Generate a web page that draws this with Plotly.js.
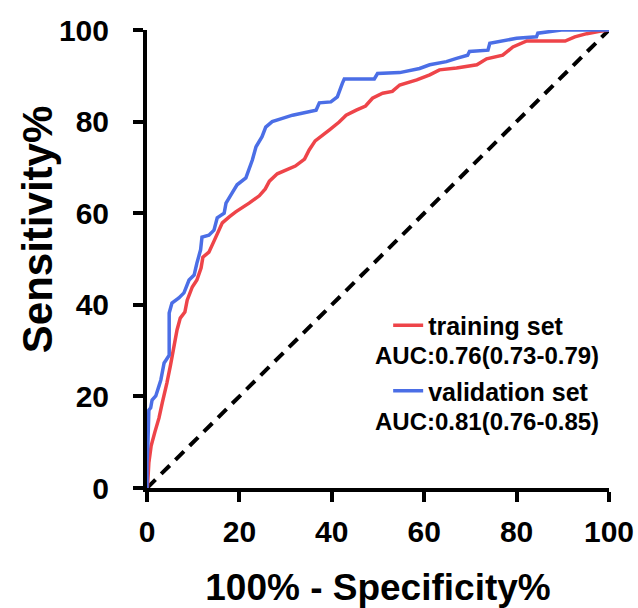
<!DOCTYPE html>
<html>
<head>
<meta charset="utf-8">
<script src="https://cdn.plot.ly/plotly-3.0.1.min.js"></script>
<style>html,body{margin:0;padding:0;background:#fff;}#chart{width:638px;height:608px;}</style>
</head>
<body>
<div id="chart"></div>
<script>
// 100% - Specificity% (x) and Sensitivity% (y)
const trainX = [0,0.1,0.4,0.9,1.7,2.6,3.3,3.7,4.3,5.1,5.9,6.5,7.2,8.2,8.7,9.8,10.8,11.7,12.1,13.4,14.5,15.6,16.3,17.8,19.2,22.1,24.3,25.6,26.5,28.2,30.2,32.1,34.1,35.1,36.4,37.7,39.5,41.6,43.1,45.3,47.3,48.8,51.0,53.1,54.7,58.4,61.2,63.3,67.0,71.4,73.5,77.0,79.2,82.2,90.5,92.6,95.2,98.0,100];
const trainY = [0,0.2,5.5,9.2,12.2,15.3,18.6,20.1,22.9,26.9,31.7,34.5,37.1,38.4,41.0,43.9,45.4,48.0,50.4,51.5,53.9,56.3,57.9,59.2,60.3,62.2,63.8,65.3,67.0,68.6,69.4,70.3,71.8,73.8,75.8,76.9,78.2,79.9,81.4,82.5,83.4,85.1,86.2,86.6,88.0,89.1,90.2,91.3,91.7,92.4,93.7,94.5,96.3,97.6,97.6,98.5,99.2,99.7,100];
const validX = [0,0,0.2,0.4,0.8,1.1,1.9,2.2,2.6,3.0,3.3,3.7,4.1,4.8,4.8,5.4,6.9,8.0,9.1,10.2,10.8,11.6,11.9,13.4,14.5,15.2,16.7,17.1,18.4,19.5,21.4,22.1,22.8,23.6,24.9,25.7,27.1,29.3,31.5,36.6,37.3,39.8,41.2,42.3,42.7,49.2,49.9,54.7,59.0,61.2,64.8,67.0,69.4,69.8,73.8,74.2,77.4,80.0,84.3,84.6,89.7,99.6,100];
const validY = [0,5.5,9.8,17.0,17.5,19.2,20.1,21.4,22.3,23.6,25.1,27.3,27.9,29.0,38.2,40.4,41.5,42.6,45.4,46.5,49.1,52.0,54.8,55.2,56.3,59.0,60.0,62.2,64.4,66.2,67.7,69.4,71.6,74.5,76.7,78.8,80.0,80.7,81.4,82.5,84.1,84.3,85.4,88.4,89.3,89.3,90.5,90.7,91.6,92.4,93.1,93.8,94.5,95.3,95.6,97.1,97.8,98.2,98.5,99.3,100,100,100];
const refX = [0,100];
const refY = [0,100];
const seriesNames = ["training set","validation set"];
const aucLabels = ["AUC:0.76(0.73-0.79)","AUC:0.81(0.76-0.85)"];
const tickVals = [0,20,40,60,80,100];
const xTitle = "100% - Specificity%";
const yTitle = "Sensitivity%";

const FONT = "Arial, 'Liberation Sans', Helvetica, sans-serif";
const bold = (size) => ({family: FONT, size: size, color: '#000', weight: 'bold'});

const traces = [
  {x: refX, y: refY, mode: 'lines', showlegend: false, hoverinfo: 'skip',
   line: {color: '#000', width: 4, dash: '12px,8px'}},
  {x: trainX, y: trainY, mode: 'lines', name: seriesNames[0], legendgroup: 'a',
   line: {color: '#EE4449', width: 3.5}},
  {x: validX, y: validY, mode: 'lines', name: seriesNames[1], legendgroup: 'b',
   line: {color: '#4B6EE6', width: 3.5}}
];

const axisCommon = {
  range: [0, 100], tickvals: tickVals, ticktext: tickVals.map(String),
  showgrid: false, zeroline: false, showline: true, linecolor: '#000', linewidth: 4,
  ticks: 'outside', ticklen: 10, tickwidth: 4, tickcolor: '#000',
  tickfont: bold(30), fixedrange: true
};

const layout = {
  width: 638, height: 608,
  margin: {l: 147, r: 29, t: 30, b: 120},
  paper_bgcolor: '#fff', plot_bgcolor: '#fff',
  xaxis: Object.assign({}, axisCommon, {
    title: {text: xTitle, font: bold(37), standoff: 30},
    ticklabelstandoff: 4
  }),
  yaxis: Object.assign({}, axisCommon, {
    ticklabelstandoff: 18
  }),
  legend: {
    x: 0.522, y: 0.405, xanchor: 'left', yanchor: 'top',
    font: bold(25), bgcolor: 'rgba(0,0,0,0)', borderwidth: 0,
    tracegroupgap: 30, itemwidth: 30
  },
  annotations: aucLabels.map((t, i) => ({
    text: t, xref: 'paper', yref: 'paper', x: 0.49, y: i === 0 ? 0.29 : 0.145,
    xanchor: 'left', yanchor: 'middle', showarrow: false, font: bold(24)
  })).concat([{
    text: yTitle, xref: 'paper', yref: 'paper', x: -0.238, y: 0.563,
    xanchor: 'center', yanchor: 'middle', textangle: -90, showarrow: false, font: bold(42)
  }])
};

Plotly.newPlot('chart', traces, layout, {displayModeBar: false, staticPlot: true});
</script>
</body>
</html>
